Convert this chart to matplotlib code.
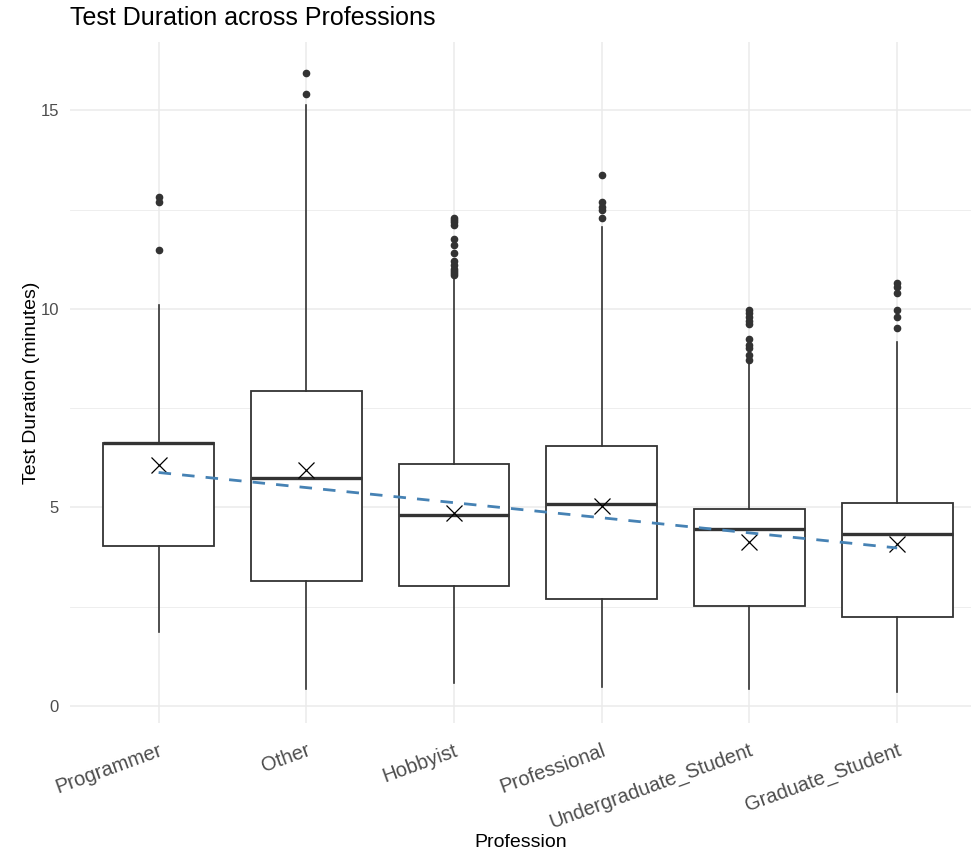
import matplotlib
matplotlib.use("Agg")
import matplotlib.pyplot as plt
import numpy as np

plt.rcParams['font.family'] = ['Liberation Sans', 'DejaVu Sans']

# ---- data ----
professions = ["Programmer", "Other", "Hobbyist", "Professional",
               "Undergraduate_Student", "Graduate_Student"]
q1      = [4.02, 3.15, 3.02, 2.69, 2.52, 2.25]
median  = [6.62, 5.75, 4.82, 5.09, 4.45, 4.32]
q3      = [6.62, 7.92, 6.10, 6.54, 4.97, 5.10]
whislo  = [1.87, 0.42, 0.57, 0.49, 0.42, 0.36]
whishi  = [10.09, 15.13, 10.77, 12.06, 8.63, 9.17]
means   = [6.07, 5.94, 4.85, 5.03, 4.14, 4.07]
outliers = [
    [11.47, 12.69, 12.81],
    [15.41, 15.94],
    [10.85, 10.9, 10.95, 11.0, 11.1, 11.2, 11.4, 11.6, 11.75,
     12.1, 12.2, 12.25, 12.3],
    [12.29, 12.48, 12.57, 12.69, 13.36],
    [8.72, 8.85, 9.01, 9.1, 9.25, 9.63, 9.7, 9.8, 9.9, 9.98],
    [9.51, 9.80, 9.97, 10.39, 10.55, 10.64],
]
trend_intercept = 6.26
trend_slope = -0.38
y_ticks = [0, 5, 10, 15]
y_minor = [2.5, 7.5, 12.5]

# ---- figure ----
W, H = 971, 852
fig = plt.figure(figsize=(W / 100, H / 100), dpi=100)
ax = fig.add_axes([70 / W, (852 - 722.7) / H, (971 - 70) / W, (722.7 - 42) / H])

positions = np.arange(1, len(professions) + 1)
stats = []
for i, name in enumerate(professions):
    stats.append(dict(label=name, q1=q1[i], med=median[i], q3=q3[i],
                      whislo=whislo[i], whishi=whishi[i],
                      mean=means[i], fliers=outliers[i]))

edge = "#333333"
ax.bxp(stats, positions=positions, widths=0.75, showmeans=True,
       showcaps=False, patch_artist=True,
       boxprops=dict(facecolor="white", edgecolor=edge, linewidth=1.3),
       medianprops=dict(color=edge, linewidth=2.4, solid_capstyle="butt"),
       whiskerprops=dict(color=edge, linewidth=1.2),
       flierprops=dict(marker="o", markerfacecolor=edge, markeredgecolor=edge,
                       markersize=4.5, linestyle="none"),
       meanprops=dict(marker="x", markeredgecolor="black", markersize=11,
                      markeredgewidth=0.9),
       zorder=2)

trend = trend_intercept + trend_slope * positions
ax.plot(positions, trend, color="#4682B4", linewidth=2.0,
        dashes=(4.5, 4.0), zorder=3)

ax.set_xlim(0.4, 6.5)
ax.set_ylim(-0.42, 16.72)
ax.set_yticks(y_ticks)
ax.set_yticks(y_minor, minor=True)
ax.set_xticks(positions)
ax.set_xticklabels(professions, rotation=20, ha="right",
                   rotation_mode="anchor", fontsize=14.5, color="#4D4D4D")
ax.tick_params(axis="y", labelsize=12, labelcolor="#4D4D4D", length=0, pad=8)
ax.tick_params(axis="y", which="minor", length=0)
ax.tick_params(axis="x", length=0, pad=13)

ax.grid(True, which="major", color="#EBEBEB", linewidth=1.1, zorder=0)
ax.grid(True, which="minor", axis="y", color="#EBEBEB", linewidth=0.6, zorder=0)
ax.set_axisbelow(True)
for s in ax.spines.values():
    s.set_visible(False)

ax.set_ylabel("Test Duration (minutes)", fontsize=14, color="black", labelpad=0)
ax.set_xlabel("Profession", fontsize=14, color="black", labelpad=1)
fig.text(70 / W, 1 - 18 / H, "Test Duration across Professions",
         fontsize=18, ha="left", va="center", color="black")

fig.savefig("out.png", dpi=100, facecolor="white")
